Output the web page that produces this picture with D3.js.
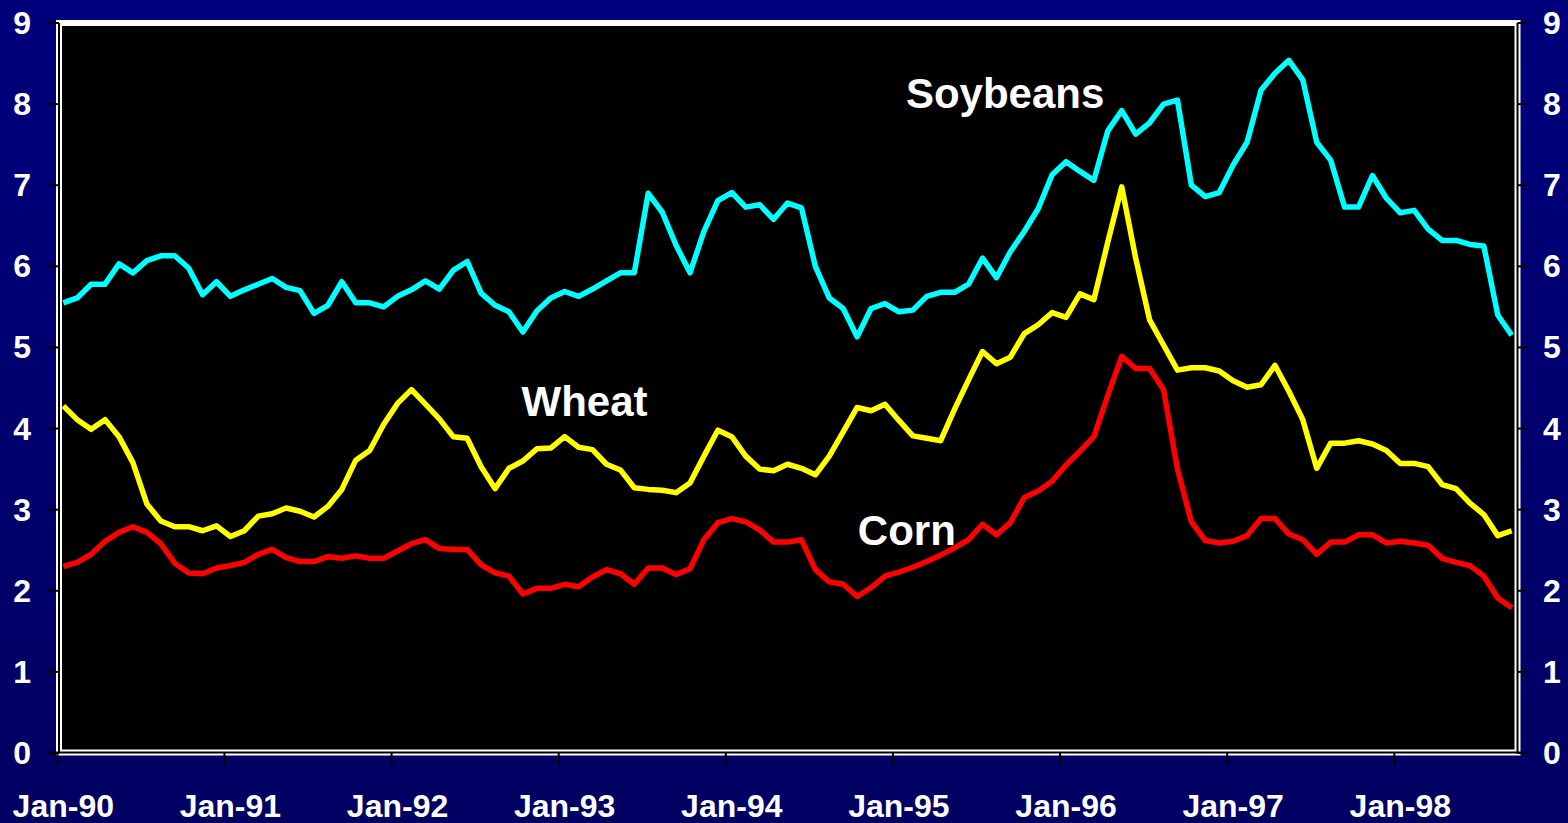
<!DOCTYPE html>
<html>
<head>
<meta charset="utf-8">
<script src="https://cdn.jsdelivr.net/npm/d3@7"></script>
<style>
  html, body { margin: 0; padding: 0; background: #000070; }
  svg { display: block; }
  text { font-family: Arial, "Liberation Sans", sans-serif; font-weight: bold; fill: #ffffff; }
</style>
</head>
<body>
<svg id="chart" width="1568" height="823"></svg>
<script>
// ---- data (monthly, Jan-90 .. Sep-98) ----
const soybeans = [5.55, 5.61, 5.78, 5.78, 6.03, 5.92, 6.07, 6.13, 6.13, 5.98,
  5.65, 5.81, 5.63, 5.71, 5.78, 5.85, 5.74, 5.70, 5.42, 5.52,
  5.81, 5.55, 5.55, 5.50, 5.63, 5.71, 5.82, 5.72, 5.95, 6.06,
  5.67, 5.52, 5.44, 5.19, 5.45, 5.61, 5.69, 5.63, 5.72, 5.82,
  5.92, 5.92, 6.90, 6.67, 6.26, 5.92, 6.43, 6.81, 6.91, 6.73,
  6.76, 6.58, 6.78, 6.72, 6.00, 5.61, 5.48, 5.13, 5.48, 5.54,
  5.44, 5.46, 5.63, 5.68, 5.68, 5.78, 6.10, 5.86, 6.18, 6.43,
  6.71, 7.13, 7.29, 7.17, 7.06, 7.67, 7.92, 7.63, 7.77, 8.00,
  8.05, 7.00, 6.86, 6.91, 7.25, 7.53, 8.17, 8.38, 8.54, 8.30,
  7.53, 7.31, 6.73, 6.73, 7.12, 6.84, 6.66, 6.69, 6.46, 6.32,
  6.32, 6.27, 6.25, 5.40, 5.15];
const wheat = [4.28, 4.11, 3.99, 4.11, 3.90, 3.58, 3.07, 2.86, 2.79, 2.79,
  2.74, 2.80, 2.67, 2.74, 2.92, 2.95, 3.02, 2.98, 2.91, 3.04,
  3.25, 3.61, 3.73, 4.05, 4.31, 4.48, 4.30, 4.12, 3.90, 3.88,
  3.53, 3.26, 3.51, 3.60, 3.75, 3.76, 3.90, 3.77, 3.74, 3.56,
  3.49, 3.27, 3.25, 3.24, 3.21, 3.33, 3.66, 3.98, 3.90, 3.66,
  3.50, 3.48, 3.56, 3.51, 3.43, 3.66, 3.96, 4.26, 4.22, 4.30,
  4.10, 3.91, 3.88, 3.85, 4.24, 4.60, 4.95, 4.80, 4.88, 5.17,
  5.28, 5.43, 5.37, 5.66, 5.59, 6.30, 6.98, 6.10, 5.34, 5.03,
  4.72, 4.75, 4.75, 4.71, 4.59, 4.51, 4.54, 4.78, 4.46, 4.11,
  3.51, 3.82, 3.82, 3.85, 3.81, 3.73, 3.57, 3.57, 3.53, 3.31,
  3.26, 3.08, 2.94, 2.68, 2.74];
const corn = [2.30, 2.35, 2.45, 2.61, 2.72, 2.79, 2.72, 2.58, 2.34, 2.22,
  2.21, 2.28, 2.31, 2.35, 2.45, 2.51, 2.41, 2.36, 2.36, 2.42,
  2.40, 2.43, 2.40, 2.40, 2.49, 2.58, 2.63, 2.52, 2.51, 2.51,
  2.32, 2.22, 2.18, 1.96, 2.03, 2.03, 2.08, 2.05, 2.17, 2.26,
  2.21, 2.08, 2.28, 2.28, 2.20, 2.27, 2.63, 2.84, 2.89, 2.85,
  2.75, 2.60, 2.60, 2.63, 2.26, 2.11, 2.08, 1.93, 2.04, 2.18,
  2.23, 2.29, 2.36, 2.44, 2.53, 2.63, 2.82, 2.69, 2.84, 3.15,
  3.23, 3.35, 3.55, 3.72, 3.90, 4.41, 4.89, 4.74, 4.74, 4.48,
  3.50, 2.85, 2.62, 2.59, 2.61, 2.68, 2.89, 2.89, 2.70, 2.63,
  2.45, 2.60, 2.60, 2.69, 2.69, 2.59, 2.61, 2.59, 2.56, 2.40,
  2.35, 2.31, 2.18, 1.91, 1.79];
const xTickLabels = ["Jan-90","Jan-91","Jan-92","Jan-93","Jan-94","Jan-95","Jan-96","Jan-97","Jan-98"];
const yTicks = [0,1,2,3,4,5,6,7,8,9];
const seriesNames = ["Soybeans", "Wheat", "Corn"];
const seriesColors = ["#00ffff", "#ffff00", "#ff0000"];
// label anchors in data space: [month index, value]
const labelAnchors = [[60.5, 7.95], [32.9, 4.15], [57.05, 2.56]];

const series = [soybeans, wheat, corn];
const svg = d3.select("#chart");
const W = 1568, H = 823;

// background
const defs = svg.append("defs");
const grad = defs.append("linearGradient").attr("id", "bg").attr("x1", 0).attr("y1", 0).attr("x2", 0).attr("y2", 1);
grad.append("stop").attr("offset", "0%").attr("stop-color", "#00007c");
grad.append("stop").attr("offset", "100%").attr("stop-color", "#000062");
svg.append("rect").attr("width", W).attr("height", H).attr("fill", "url(#bg)");

const plot = { left: 59, right: 1517.5, top: 23, bottom: 752.5 };
const n = soybeans.length;
const x = d3.scaleLinear().domain([0, n - 1]).range([63.3, 1511.7]);
const y = d3.scaleLinear().domain([0, 9]).range([753, 23]);
const step = x(1) - x(0);

// plot area
svg.append("rect")
  .attr("x", plot.left).attr("y", plot.top)
  .attr("width", plot.right - plot.left).attr("height", plot.bottom - plot.top)
  .attr("fill", "#000");

// series lines
const line = d3.line().x((d, i) => x(i)).y(d => y(d));
series.forEach((s, k) => {
  svg.append("path").datum(s)
    .attr("d", line)
    .attr("fill", "none")
    .attr("stroke", seriesColors[k])
    .attr("stroke-width", 5.5)
    .attr("stroke-linejoin", "round")
    .attr("stroke-linecap", "butt");
});

// frame
svg.append("rect")
  .attr("x", plot.left).attr("y", plot.top)
  .attr("width", plot.right - plot.left).attr("height", plot.bottom - plot.top)
  .attr("fill", "none").attr("stroke", "#fff").attr("stroke-width", 6);

// axes lines (black, through the middle of the frame)
const axisG = svg.append("g").attr("stroke", "#000").attr("stroke-width", 2);
axisG.append("line").attr("x1", plot.left).attr("x2", plot.left).attr("y1", plot.top).attr("y2", plot.bottom + 1);
axisG.append("line").attr("x1", plot.right).attr("x2", plot.right).attr("y1", plot.top).attr("y2", plot.bottom + 1);
axisG.append("line").attr("x1", plot.left - 11).attr("x2", plot.right + 10).attr("y1", plot.bottom).attr("y2", plot.bottom);

// y ticks + labels
yTicks.forEach(t => {
  axisG.append("line").attr("x1", plot.left - 11).attr("x2", plot.left).attr("y1", y(t)).attr("y2", y(t));
  axisG.append("line").attr("x1", plot.right).attr("x2", plot.right + 10).attr("y1", y(t)).attr("y2", y(t));
  svg.append("text").attr("x", 31).attr("y", y(t) + 11).attr("text-anchor", "end")
    .attr("font-size", 32).text(t);
  svg.append("text").attr("x", 1543).attr("y", y(t) + 11).attr("text-anchor", "start")
    .attr("font-size", 32).text(t);
});

// x ticks + labels
xTickLabels.forEach((lab, j) => {
  const idx = j * 12;
  const tx = x(idx) - step / 2 + 1;
  axisG.append("line").attr("x1", tx).attr("x2", tx).attr("y1", plot.bottom).attr("y2", plot.bottom + 13);
  svg.append("text").attr("x", x(idx)).attr("y", 817).attr("text-anchor", "middle")
    .attr("font-size", 32).text(lab);
});

// series labels
seriesNames.forEach((nm, k) => {
  svg.append("text").attr("x", x(labelAnchors[k][0])).attr("y", y(labelAnchors[k][1]))
    .attr("text-anchor", "start").attr("font-size", 42).text(nm);
});
</script>
</body>
</html>
